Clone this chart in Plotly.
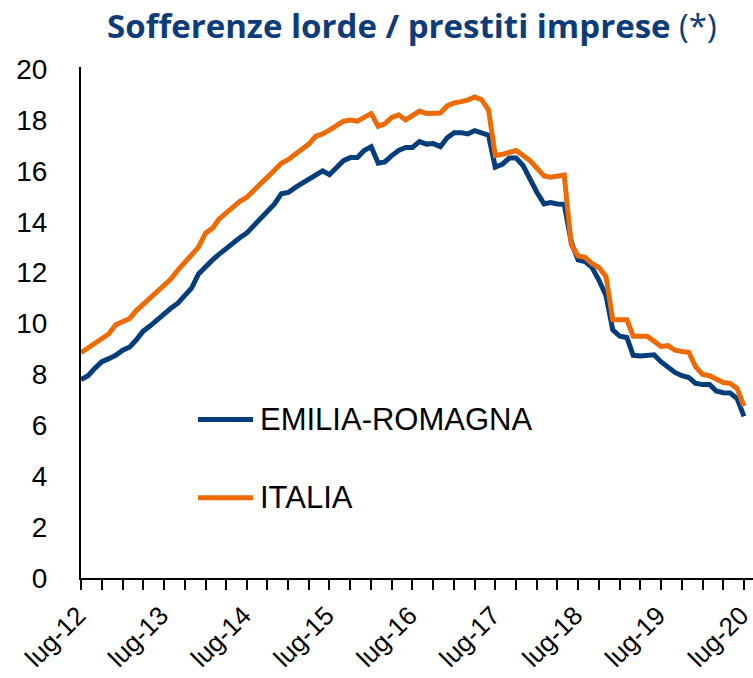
import pandas as pd
import plotly.graph_objects as go

months = pd.date_range("2012-07-01", periods=97, freq="MS")

emilia_romagna = [
    7.80, 7.95, 8.25, 8.50, 8.62, 8.75, 8.95, 9.08, 9.35, 9.70,
    9.90, 10.15, 10.38, 10.60, 10.80, 11.08, 11.40, 11.95, 12.25, 12.50,
    12.72, 12.95, 13.18, 13.37, 13.55, 13.85, 14.12, 14.40, 14.70, 15.10,
    15.15, 15.35, 15.50, 15.68, 15.87, 16.00, 15.85, 16.10, 16.40, 16.52,
    16.52, 16.80, 16.95, 16.30, 16.35, 16.60, 16.80, 16.92, 16.92, 17.15,
    17.05, 17.07, 16.95, 17.30, 17.50, 17.50, 17.45, 17.58, 17.50, 17.40,
    16.15, 16.26, 16.50, 16.50, 16.20, 15.65, 15.15, 14.70, 14.75, 14.70,
    14.69, 13.20, 12.50, 12.43, 12.20, 11.70, 11.10, 9.75, 9.50, 9.45,
    8.75, 8.72, 8.75, 8.77, 8.50, 8.28, 8.08, 7.95, 7.88, 7.65,
    7.60, 7.60, 7.35, 7.28, 7.27, 7.05, 6.35,
]

italia = [
    8.85, 9.05, 9.25, 9.45, 9.60, 9.95, 10.05, 10.20, 10.50, 10.75,
    11.00, 11.30, 11.55, 11.75, 12.10, 12.40, 12.65, 13.00, 13.55, 13.75,
    14.10, 14.35, 14.60, 14.80, 14.95, 15.25, 15.50, 15.75, 16.00, 16.30,
    16.45, 16.65, 16.85, 17.05, 17.35, 17.45, 17.60, 17.80, 17.95, 18.00,
    17.95, 18.10, 18.25, 17.75, 17.85, 18.10, 18.20, 18.00, 18.20, 18.35,
    18.25, 18.27, 18.27, 18.55, 18.67, 18.72, 18.78, 18.90, 18.80, 18.40,
    16.60, 16.65, 16.75, 16.80, 16.60, 16.40, 16.10, 15.80, 15.75, 15.80,
    15.83, 13.10, 12.65, 12.60, 12.35, 12.20, 11.85, 10.15, 10.15, 10.15,
    9.50, 9.50, 9.50, 9.30, 9.10, 9.13, 8.95, 8.90, 8.87, 8.30,
    8.00, 7.95, 7.80, 7.68, 7.65, 7.45, 6.75,
]

tick_labels = ["lug-12", "lug-13", "lug-14", "lug-15", "lug-16",
               "lug-17", "lug-18", "lug-19", "lug-20"]
tick_dates = [f"{2012 + k}-07-01" for k in range(len(tick_labels))]
y_ticks = list(range(0, 21, 2))

series_names = ["EMILIA-ROMAGNA", "ITALIA"]
colors = ["#033D7C", "#EE6A05"]

fig = go.Figure()
fig.add_trace(go.Scatter(x=months, y=emilia_romagna, mode="lines",
                         name=series_names[0],
                         line=dict(color=colors[0], width=5)))
fig.add_trace(go.Scatter(x=months, y=italia, mode="lines",
                         name=series_names[1],
                         line=dict(color=colors[1], width=5)))

font_fam = "Liberation Sans, Arial, sans-serif"

# manual legend (long line samples like the reference)
legend_y = [0.31, 0.157]
for name, col, yy in zip(series_names, colors, legend_y):
    fig.add_shape(type="line", xref="paper", yref="paper",
                  x0=0.174, x1=0.256, y0=yy, y1=yy,
                  line=dict(color=col, width=5))
    fig.add_annotation(xref="paper", yref="paper", x=0.263, y=yy,
                       text=name, showarrow=False, xanchor="left",
                       yanchor="middle",
                       font=dict(family=font_fam, size=31, color="black"))

fig.update_layout(
    width=753, height=678,
    margin=dict(l=81, r=0, t=67, b=100),
    paper_bgcolor="white", plot_bgcolor="white",
    showlegend=False,
    title=dict(
        text="<b>Sofferenze lorde / prestiti imprese</b> (*)",
        x=0.547, xref="container", xanchor="center",
        y=0.978, yref="container", yanchor="top",
        font=dict(family="Open Sans, sans-serif", size=33, color="#0E3C7A"),
    ),
    font=dict(family=font_fam, size=28, color="black"),
)

fig.update_xaxes(
    type="date",
    range=["2012-07-01", "2020-08-10"],
    tickmode="array", tickvals=tick_dates, ticktext=tick_labels,
    tickangle=-45,
    ticks="outside", ticklen=10, tickwidth=2, tickcolor="black",
    minor=dict(tickmode="linear", tick0="2012-07-01", dtick="M3",
               ticks="outside", ticklen=10, tickwidth=2, tickcolor="black"),
    showline=True, linecolor="black", linewidth=2,
    showgrid=False, zeroline=False,
    automargin=False, ticklabeloverflow="allow",
    ticklabelstandoff=0, ticklabelshift=-3,
    tickfont=dict(family=font_fam, size=26, color="black"),
)

fig.update_yaxes(
    range=[0, 20.08],
    tickmode="array", tickvals=y_ticks,
    ticks="", showline=True, linecolor="black", linewidth=2,
    showgrid=False, zeroline=False,
    automargin=False,
    ticklabelstandoff=26,
    tickfont=dict(family=font_fam, size=28, color="black"),
)

fig.write_html("out.html",
               config={"displayModeBar": False},
               post_script="document.body.style.margin='0';")
